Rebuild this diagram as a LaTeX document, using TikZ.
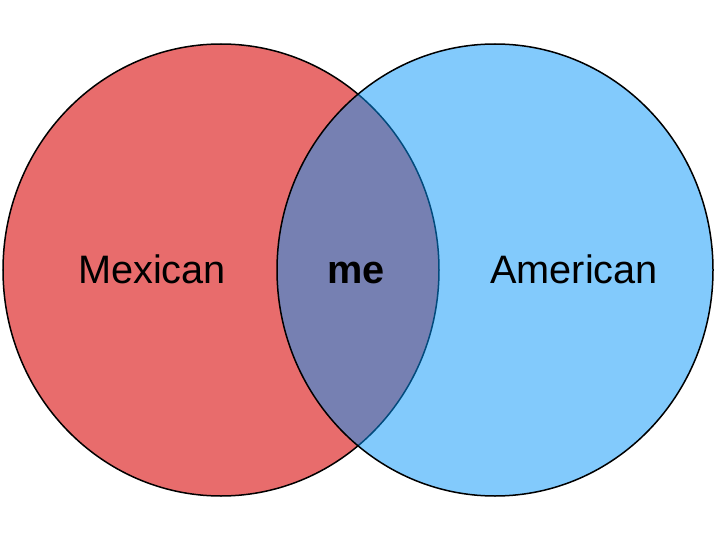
\documentclass[tikz,border=0pt]{standalone}
\usepackage{fontspec}
\setmainfont{Liberation Sans}
\usetikzlibrary{shapes.geometric}
\definecolor{mexred}{RGB}{232,108,108}
\definecolor{amblue}{RGB}{5,149,249}

\begin{document}
\begin{tikzpicture}[x=1pt, y=-1pt, every node/.style={font=\fontsize{39.7}{46}\selectfont, anchor=base},
  set/.style={ellipse, draw=black, line width=1.5pt, inner sep=0pt,
    minimum width=436pt, minimum height=452pt, anchor=center}]
\useasboundingbox (0,0) rectangle (720,540);

% ---- the two sets ----
\node[set, fill=mexred] (mexico) at (221,270) {};
\node[set, fill=amblue, fill opacity=0.5] (usa) at (495,270) {};

% ---- labels ----
\node (mexlabel) at (152,283) {Mexican};
\node (amlabel) at (574,283) {American};
\node[font=\fontsize{39.7}{46}\selectfont\bfseries] (melabel) at (356,283) {me};
\end{tikzpicture}
\end{document}
